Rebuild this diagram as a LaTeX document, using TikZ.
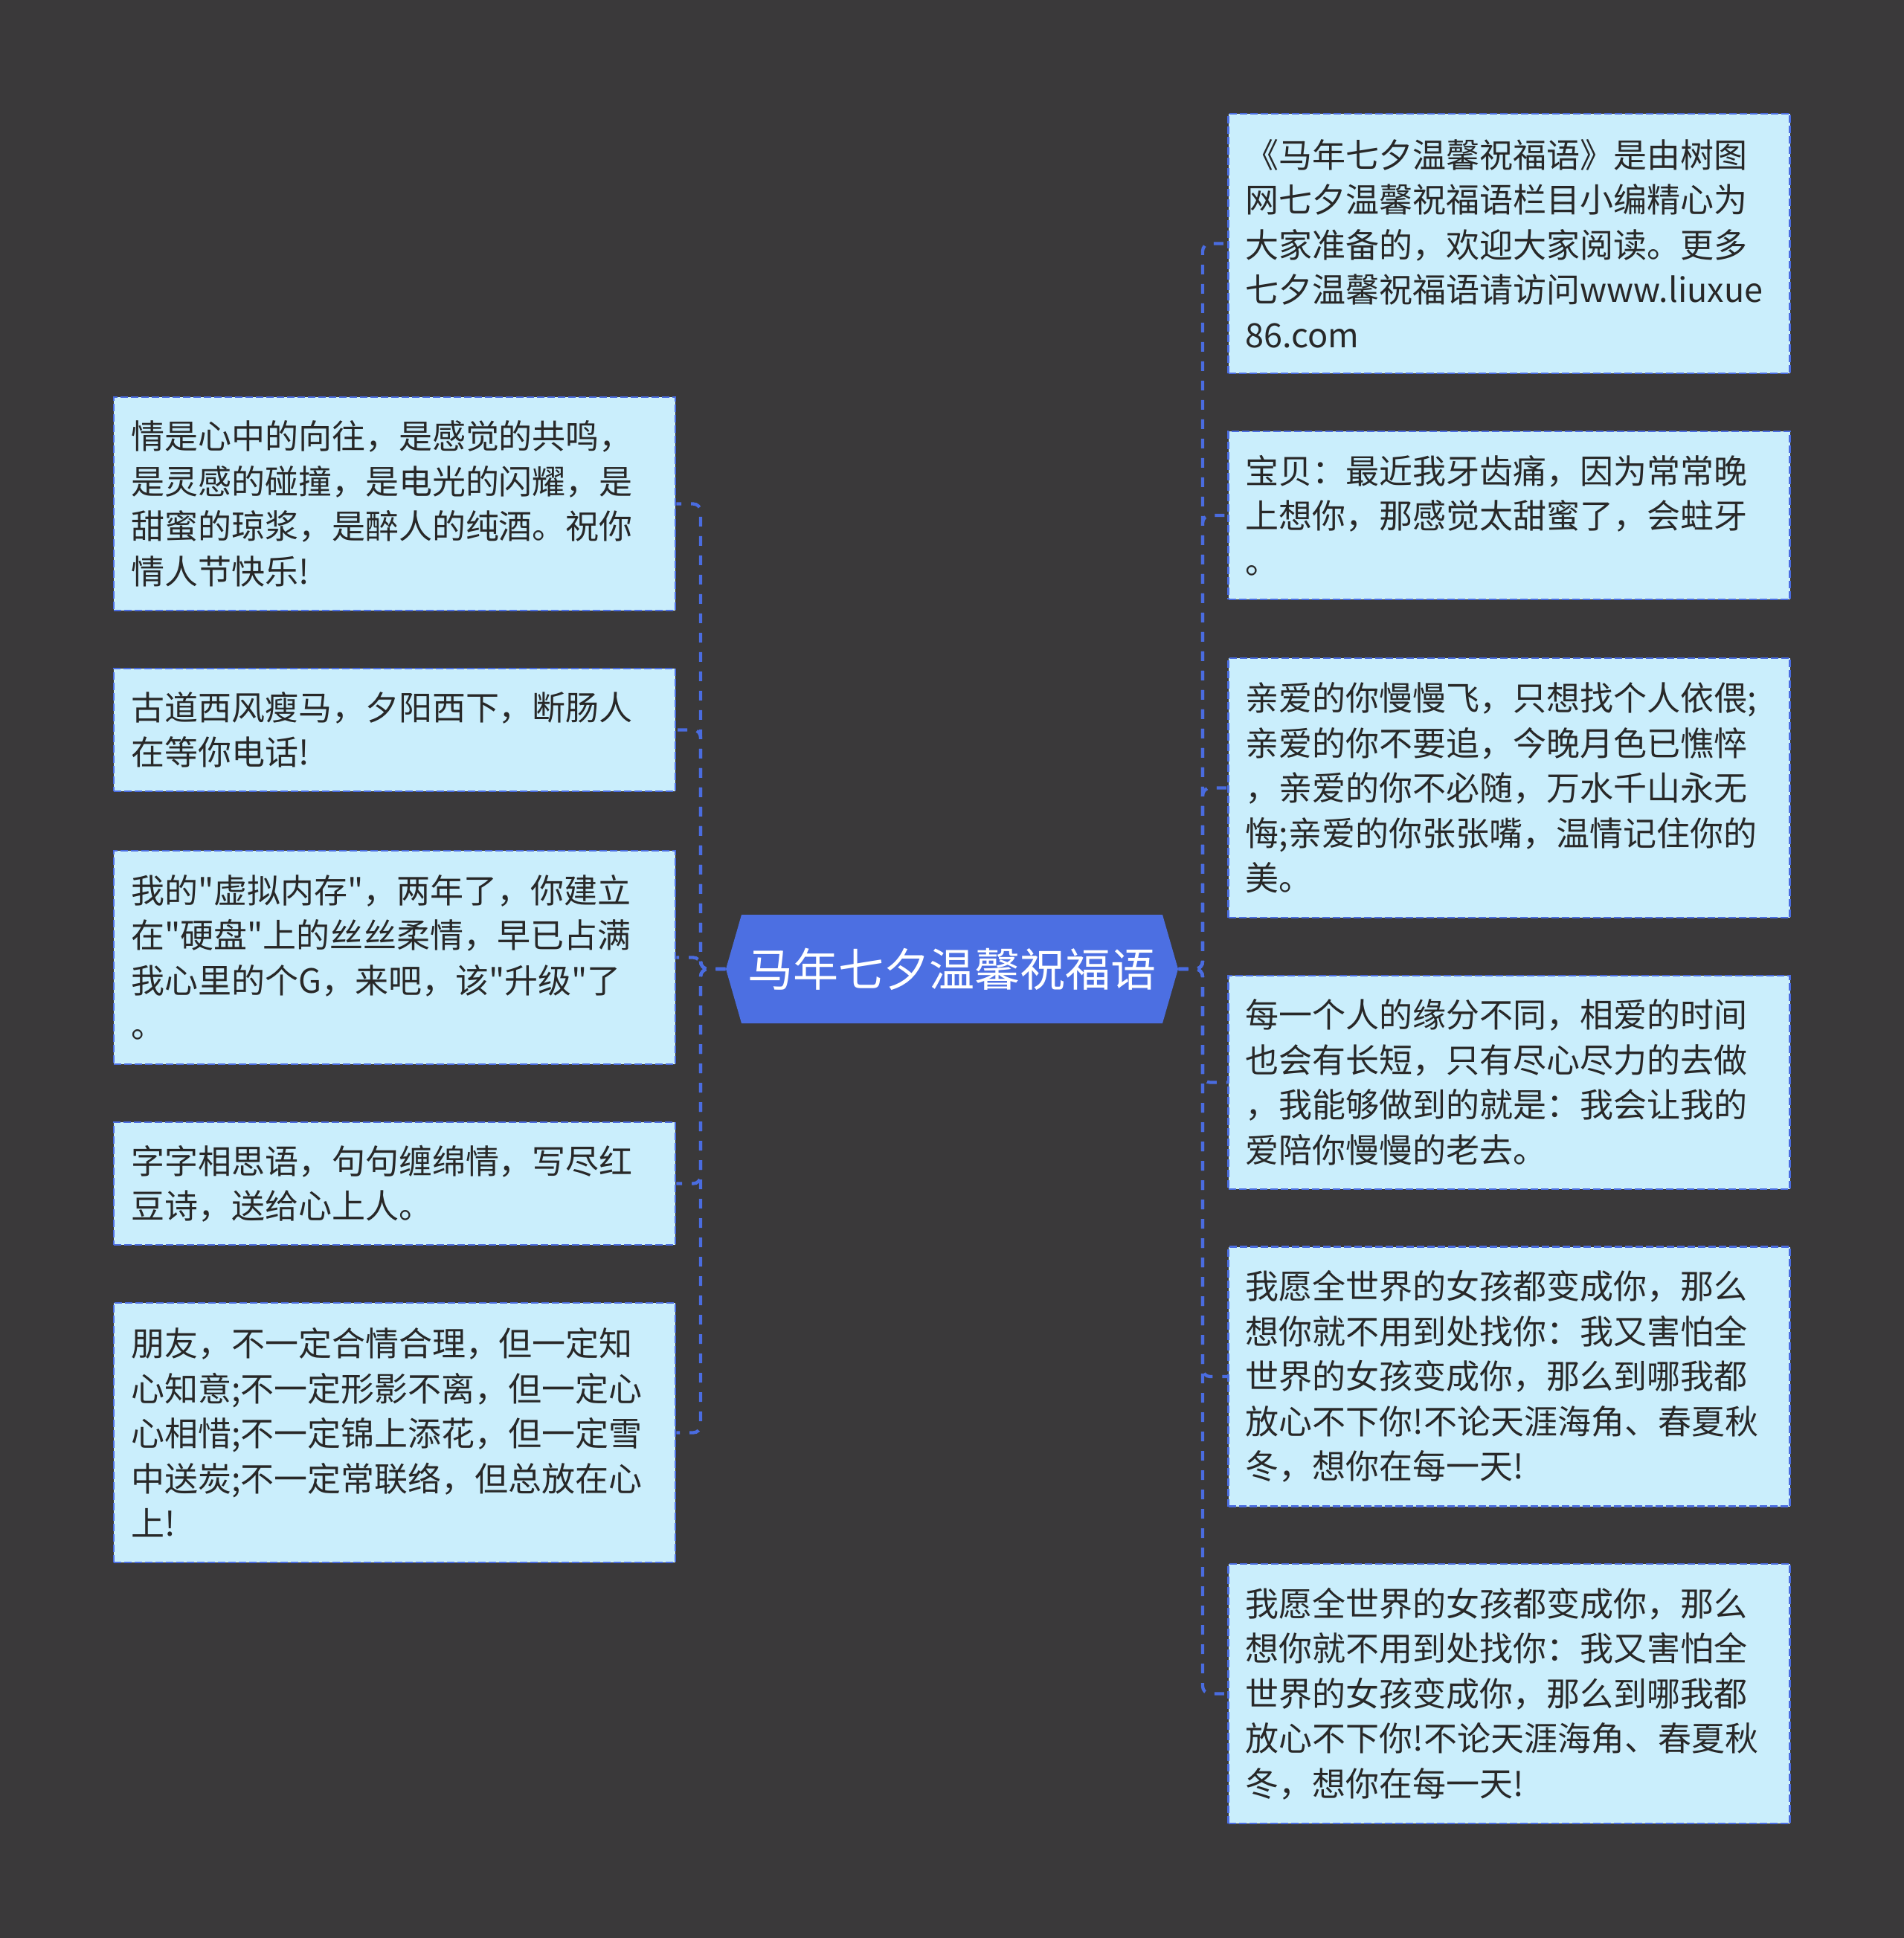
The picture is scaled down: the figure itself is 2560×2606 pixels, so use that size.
\documentclass[tikz,border=0pt]{standalone}
\usepackage{fontspec}
\setmainfont{Noto Sans CJK SC}
\definecolor{bg}{RGB}{58,57,58}
\definecolor{leaffill}{RGB}{202,238,252}
\definecolor{edgeblue}{RGB}{74,108,224}
\definecolor{centerblue}{RGB}{76,111,226}
\definecolor{txt}{RGB}{40,40,40}
\newcommand{\qq}{\textquotedbl}
\begin{document}
\begin{tikzpicture}[x=0.3pt,y=-0.3pt,
  leaf/.style={draw=edgeblue, line width=0.75pt, dash pattern=on 3pt off 1.2pt,
    fill=leaffill, text=txt, font=\fontsize{13.5pt}{18.15pt}\selectfont,
    text width=212.7pt, align=left, inner xsep=6.9pt, inner ysep=0pt},
  htwo/.style={minimum height=49.5pt},
  hthree/.style={minimum height=67.8pt},
  hfour/.style={minimum height=86.1pt},
  hfive/.style={minimum height=104.7pt},
  link/.style={draw=edgeblue, line width=1.3pt, dash pattern=on 3.9pt off 3.9pt, rounded corners=3pt},
  root/.style={minimum width=182.4pt, minimum height=43.8pt, inner sep=0pt, text=white,
    font=\fontsize{18.3pt}{22pt}\selectfont}
]
\useasboundingbox[fill=bg] (0,0) rectangle (2560,2606);

% centre
\fill[centerblue] (976,1303) -- (997,1230) -- (1563,1230) -- (1584,1303) -- (1563,1376) -- (997,1376) -- cycle;
\node[root] (c) at (1280,1303) {马年七夕温馨祝福语};

% left leaves
\node[leaf,hfour] (L1) at (530.5,677.5) {情是心中的向往，是感觉的共鸣，\\是灵感的碰撞，是电光的闪耀，是\\甜蜜的琼浆，是醉人的纯酒。祝你\\情人节快乐!};
\node[leaf,htwo] (L2) at (530.5,981.5) {古道西风瘦马，夕阳西下，断肠人\\在等你电话!};
\node[leaf,hfour] (L3) at (530.5,1287.5) {我的\qq 虚拟内存\qq ，两年了，你建立\\在\qq 硬盘\qq 上的丝丝柔情，早已占满\\我心里的个G，来吧，该\qq 升级\qq 了\\。};
\node[leaf,htwo] (L4) at (530.5,1591.5) {字字相思语，句句缠绵情，写尽红\\豆诗，送给心上人。};
\node[leaf,hfive] (L5) at (530.5,1926.5) {朋友，不一定合情合理，但一定知\\心知意;不一定形影不离，但一定心\\心相惜;不一定锦上添花，但一定雪\\中送炭;不一定常联络，但总放在心\\上!};

% right leaves
\node[leaf,hfive] (R1) at (2029,327.5) {《马年七夕温馨祝福语》是由树图\\网七夕温馨祝福语栏目小编精心为\\大家准备的，欢迎大家阅读。更多\\七夕温馨祝福语请访问www.liuxue\\86.com};
\node[leaf,hthree] (R2) at (2029,693) {宝贝：最近我牙齿痛，因为常常晚\\上想你，那感觉太甜蜜了，会蛀牙\\。};
\node[leaf,hfive] (R3) at (2029,1059.5) {亲爱的你慢慢飞，只想找个人依偎;\\亲爱的你不要追，今晚月色已憔悴\\，亲爱的你不必随，万水千山永无\\悔;亲爱的你张张嘴，温情记住你的\\美。};
\node[leaf,hfour] (R4) at (2029,1455.5) {每一个人的缘分不同，相爱的时间\\也会有长短，只有尽心尽力的去做\\，我能够做到的就是：我会让我的\\爱陪你慢慢的老去。};
\node[leaf,hfive] (R5) at (2029,1851) {我愿全世界的女孩都变成你，那么\\想你就不用到处找你：我又害怕全\\世界的女孩变成你，那么到哪我都\\放心不下你!不论天涯海角、春夏秋\\冬，想你在每一天!};
\node[leaf,hfive] (R6) at (2029,2277.5) {我愿全世界的女孩都变成你，那么\\想你就不用到处找你：我又害怕全\\世界的女孩变成你，那么到哪我都\\放心不下你!不论天涯海角、春夏秋\\冬，想你在每一天!};

% connectors
\coordinate (lt) at (942,1303);
\coordinate (rt) at (1617,1303);
\foreach \n in {L1,L2,L3,L4,L5}
  \draw[link] (c.west) -- (lt) |- (\n.east);
\foreach \n in {R1,R2,R3,R4,R5,R6}
  \draw[link] (c.east) -- (rt) |- (\n.west);
\end{tikzpicture}
\end{document}
